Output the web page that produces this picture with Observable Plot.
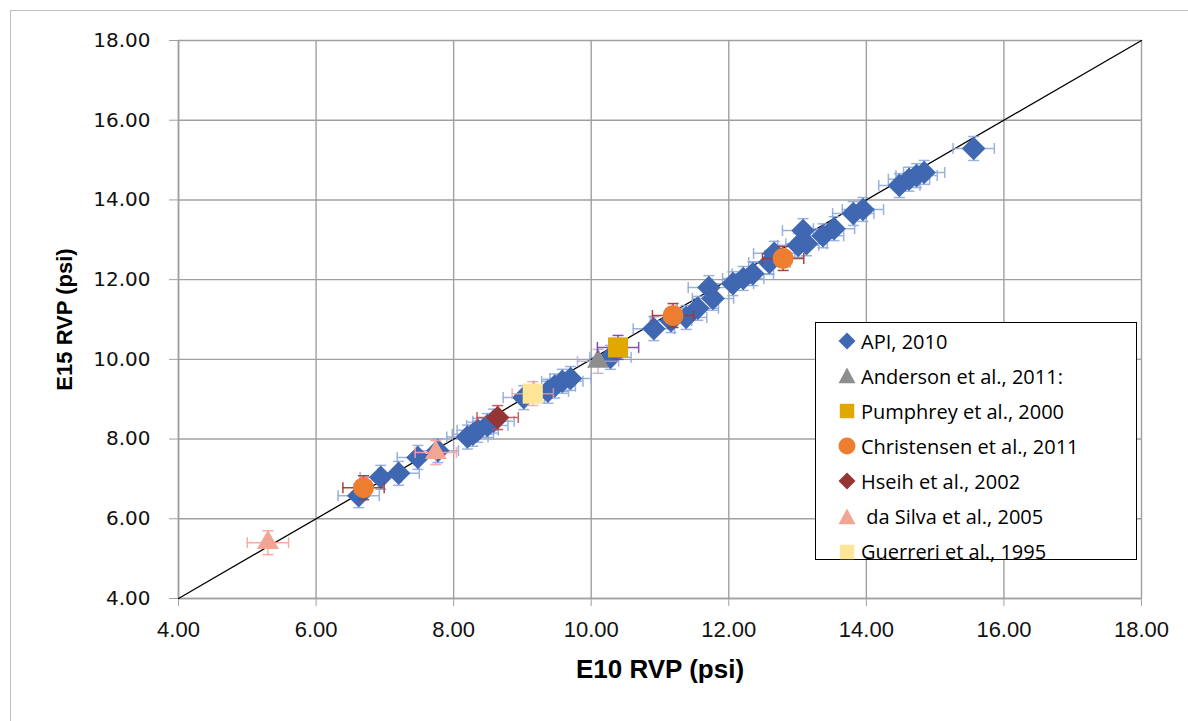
<!DOCTYPE html>
<html>
<head>
<meta charset="utf-8">
<script src="https://cdn.jsdelivr.net/npm/d3@7"></script>
<script src="https://cdn.jsdelivr.net/npm/@observablehq/plot@0.6"></script>
<style>
  html, body { margin: 0; padding: 0; background: #fff; overflow: hidden; }
  #wrap { position: relative; width: 1188px; height: 721px; }
  #border { position: absolute; left: 10px; top: 10px; width: 1400px; height: 900px; border: 1.5px solid #BFBFBF; }
  #chart { position: absolute; left: 0; top: 0; }
  #legend { position: absolute; left: 815px; top: 322px; width: 322px; height: 238px; background: #fff;
            border: 1.2px solid #000; box-sizing: border-box; font-family: "Open Sans", sans-serif; font-size: 20px; color: #000; }
  .row { position: absolute; left: 0; height: 30px; display: flex; align-items: center; white-space: nowrap; }
  .row svg { margin-left: 22px; margin-right: 5px; }
</style>
</head>
<body>
<div id="wrap">
  <div id="border"></div>
  <div id="chart"></div>
  <div id="legend"></div>
</div>
<script>
// ---- data ----
const seriesNames = ["API, 2010", "Anderson et al., 2011:", "Pumphrey et al., 2000", "Christensen et al., 2011",
                     "Hseih et al., 2002", " da Silva et al., 2005", "Guerreri et al., 1995"];

const e10Api = [6.62, 6.94, 7.20, 7.48, 7.77, 8.20, 8.28, 8.35, 8.49, 8.58, 9.02, 9.37, 9.47, 9.58, 9.70,
                10.28, 10.91, 11.16, 11.38, 11.55, 11.71, 11.77, 12.06, 12.21, 12.35, 12.59, 12.66,
                13.01, 13.08, 13.13, 13.37, 13.53, 13.81, 13.95, 14.48, 14.62, 14.73, 14.84, 15.56];
const e15Api = [6.58, 7.04, 7.14, 7.54, 7.71, 8.05, 8.12, 8.22, 8.34, 8.45, 9.04, 9.20, 9.33, 9.45, 9.52,
                10.05, 10.77, 10.97, 11.05, 11.28, 11.80, 11.53, 11.90, 12.03, 12.15, 12.43, 12.66,
                12.86, 13.23, 12.90, 13.10, 13.28, 13.66, 13.76, 14.36, 14.52, 14.61, 14.69, 15.29];
const e10Anderson = [10.10];          const e15Anderson = [9.95];
const e10Pumphrey = [10.39];          const e15Pumphrey = [10.30];
const e10Christensen = [6.69, 11.19, 12.79]; const e15Christensen = [6.78, 11.10, 12.53];
const e10Hseih = [8.64];              const e15Hseih = [8.54];
const e10DaSilva = [5.30, 7.74];      const e15DaSilva = [5.40, 7.66];
const e10Guerreri = [9.15];           const e15Guerreri = [9.14];
const errorPsi = 0.3;

const axisTicks = [4, 6, 8, 10, 12, 14, 16, 18];
const oneToOne = [4, 18];

// ---- styles ----
const styles = [
  {symbol: "diamond2",  fill: "#4067B2", r: 10.6, bar: "#8FAADC", barOpacity: 0.9},
  {symbol: "triangle2", fill: "#8E8E8E", r: 10.5, bar: "#B4A7C8", barOpacity: 0.8},
  {symbol: "square2",   fill: "#E1A900", r: 12.8, bar: "#7A3EA8", barOpacity: 0.9},
  {symbol: "circle",    fill: "#ED7D31", r: 10.5, bar: "#A33A34", barOpacity: 0.95},
  {symbol: "diamond2",  fill: "#943634", r: 10.6, bar: "#C0504D", barOpacity: 0.9},
  {symbol: "triangle2", fill: "#F3A593", r: 10.5, bar: "#FF9E9E", barOpacity: 0.9},
  {symbol: "square2",   fill: "#FFE597", r: 12.8, bar: "#E8A0A0", barOpacity: 0.8}
];

const xs = [e10Api, e10Anderson, e10Pumphrey, e10Christensen, e10Hseih, e10DaSilva, e10Guerreri];
const ys = [e15Api, e15Anderson, e15Pumphrey, e15Christensen, e15Hseih, e15DaSilva, e15Guerreri];
const series = xs.map((xv, i) => xv.map((x, j) => ({x, y: ys[i][j], e: errorPsi})));

const vcap = {draw(ctx, size) { const r = Math.sqrt(size / Math.PI); ctx.moveTo(0, -r); ctx.lineTo(0, r); }};
const hcap = {draw(ctx, size) { const r = Math.sqrt(size / Math.PI); ctx.moveTo(-r, 0); ctx.lineTo(r, 0); }};

const seriesMarks = series.flatMap((data, i) => {
  const s = styles[i];
  const common = {stroke: s.bar, strokeOpacity: s.barOpacity, strokeWidth: 1.5};
  return [
    Plot.ruleY(data, {y: "y", x1: d => d.x - d.e, x2: d => d.x + d.e, ...common}),
    Plot.ruleX(data, {x: "x", y1: d => d.y - d.e, y2: d => d.y + d.e, ...common}),
    Plot.dot(data, {x: d => d.x - d.e, y: "y", symbol: vcap, r: 5.5, ...common}),
    Plot.dot(data, {x: d => d.x + d.e, y: "y", symbol: vcap, r: 5.5, ...common}),
    Plot.dot(data, {x: "x", y: d => d.y - d.e, symbol: hcap, r: 5.5, ...common}),
    Plot.dot(data, {x: "x", y: d => d.y + d.e, symbol: hcap, r: 5.5, ...common}),
    Plot.dot(data, {x: "x", y: "y", symbol: s.symbol, r: s.r, fill: s.fill, stroke: "none"})
  ];
});

const fmt = d => d.toFixed(2);

const chart = Plot.plot({
  width: 1188,
  height: 721,
  marginLeft: 178,
  marginRight: 47,
  marginTop: 40,
  marginBottom: 123,
  style: {background: "transparent", overflow: "visible", fontSize: "20px", fontFamily: "DejaVu Sans"},
  x: {domain: [4, 18]},
  y: {domain: [4, 18]},
  marks: [
    Plot.gridX(axisTicks, {stroke: "#A0A0A0", strokeOpacity: 1, strokeWidth: 1.4}),
    Plot.gridY(axisTicks, {stroke: "#A0A0A0", strokeOpacity: 1, strokeWidth: 1.4}),
    Plot.ruleX([4], {stroke: "#A0A0A0", strokeWidth: 1.6}),
    Plot.ruleY([4], {stroke: "#A0A0A0", strokeWidth: 1.6}),
    Plot.axisY({ticks: axisTicks, tickFormat: fmt, tickSize: 9, tickPadding: 19, label: null,
                stroke: "#A0A0A0", fill: "#111"}),
    Plot.axisX({ticks: axisTicks, tickFormat: fmt, tickSize: 8, tickPadding: 15, label: null,
                stroke: "#A0A0A0", fill: "#111"}),
    Plot.line(oneToOne, {x: d => d, y: d => d, stroke: "#000", strokeWidth: 1.3}),
    ...seriesMarks,
    Plot.text(["E10 RVP (psi)"], {frameAnchor: "bottom", dy: 79, text: d => d, fontSize: 26, fontWeight: "bold",
                fontFamily: "'Liberation Sans'", fill: "#000"}),
    Plot.text(["E15 RVP (psi)"], {frameAnchor: "left", textAnchor: "middle", dx: -114, rotate: -90, text: d => d,
                fontSize: 22, fontWeight: "bold", fontFamily: "'Liberation Sans'", fill: "#000"})
  ]
});
document.getElementById("chart").appendChild(chart);

// tick label typography (x axis uses a taller face)
d3.select(chart).selectAll("g[aria-label*='x-axis'] text")
  .style("font-size", "22px").style("font-family", "'Liberation Sans'");
d3.select(chart).selectAll("g[aria-label*='y-axis'] text")
  .style("font-size", "20px").style("font-family", "'DejaVu Sans'");

// ---- legend ----
function legendSymbol(sym, color) {
  const c = 9, s = 8.5;
  let shape;
  if (sym === "diamond2") shape = `<polygon points="${c},${c - s} ${c + s},${c} ${c},${c + s} ${c - s},${c}" fill="${color}"/>`;
  else if (sym === "triangle2") shape = `<polygon points="${c},${c - s} ${c + s},${c + s * 0.85} ${c - s},${c + s * 0.85}" fill="${color}"/>`;
  else if (sym === "square2") shape = `<rect x="${c - s * 0.85}" y="${c - s * 0.85}" width="${s * 1.7}" height="${s * 1.7}" fill="${color}"/>`;
  else shape = `<circle cx="${c}" cy="${c}" r="${s}" fill="${color}"/>`;
  return `<svg width="18" height="18" viewBox="0 0 18 18">${shape}</svg>`;
}
const legend = document.getElementById("legend");
seriesNames.forEach((name, i) => {
  const row = document.createElement("div");
  row.className = "row";
  row.style.top = (3 + i * 35.1) + "px";
  row.innerHTML = legendSymbol(styles[i].symbol, styles[i].fill) + `<span style="white-space:pre">${name}</span>`;
  legend.appendChild(row);
});
</script>
</body>
</html>
